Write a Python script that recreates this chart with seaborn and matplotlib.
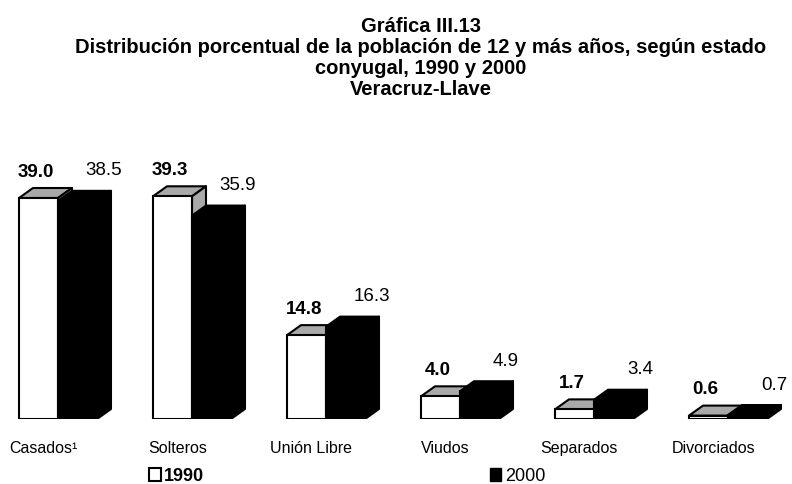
import numpy as np
import pandas as pd
import matplotlib
matplotlib.use("Agg")
import matplotlib.pyplot as plt
from matplotlib.patches import Polygon, Patch
import seaborn as sns

# Population aged 12+ by marital status, Veracruz-Llave (percent)
categorias = ["Casados¹", "Solteros", "Unión Libre", "Viudos", "Separados", "Divorciados"]
pct_1990 = [39.0, 39.3, 14.8, 4.0, 1.7, 0.6]
pct_2000 = [38.5, 35.9, 16.3, 4.9, 3.4, 0.7]
anios = ["1990", "2000"]

titulo = [
    "Gráfica III.13",
    "Distribución porcentual de la población de 12 y más años, según estado",
    "conyugal, 1990 y 2000",
    "Veracruz-Llave",
]

df = pd.DataFrame({
    "Estado": categorias * 2,
    "Año": [anios[0]] * len(categorias) + [anios[1]] * len(categorias),
    "Porcentaje": pct_1990 + pct_2000,
})

sns.set_style("white")
plt.rcParams["font.family"] = ["Liberation Sans", "DejaVu Sans"]
plt.rcParams["text.color"] = "black"
plt.rcParams["xtick.color"] = "black"
plt.rcParams["xtick.labelcolor"] = "black"

W, H = 792, 485
fig = plt.figure(figsize=(W / 100, H / 100), dpi=100)
ax = fig.add_axes([0, 65 / H, 1, 255 / H])

sns.barplot(
    data=df, x="Estado", y="Porcentaje", hue="Año",
    order=categorias, hue_order=anios,
    palette=["white", "black"], saturation=1,
    width=0.582, edgecolor="black", linewidth=1.5,
    errorbar=None, legend=False, ax=ax,
)

step_px = 134.0
ax.set_xlim(-58 / step_px, (W - 58) / step_px)
ax.set_ylim(0, 45)
px_per_unit = 255 / 45

# pseudo-3D depth of the boxes, in data units
dx = 14 / step_px
dy = 10 / px_per_unit

def is_white(p):
    return p.get_facecolor()[0] > 0.5

bars_1990 = sorted([p for p in ax.patches if is_white(p)], key=lambda p: p.get_x())
bars_2000 = sorted([p for p in ax.patches if not is_white(p)], key=lambda p: p.get_x())

def add_depth(p, top_color, side_color, edge, z):
    x0, w, h = p.get_x(), p.get_width(), p.get_height()
    top = Polygon([(x0, h), (x0 + dx, h + dy), (x0 + w + dx, h + dy), (x0 + w, h)],
                  closed=True, facecolor=top_color, edgecolor=edge, linewidth=1.5,
                  joinstyle="round", zorder=z)
    side = Polygon([(x0 + w, 0), (x0 + w, h), (x0 + w + dx, h + dy), (x0 + w + dx, dy)],
                   closed=True, facecolor=side_color, edgecolor=edge, linewidth=1.5,
                   joinstyle="round", zorder=z)
    ax.add_patch(top)
    ax.add_patch(side)
    p.set_zorder(z + 0.1)

for p in bars_1990:
    add_depth(p, "#a9a9a9", "#a9a9a9", "black", 2)
for p in bars_2000:
    add_depth(p, "black", "black", "black", 3)

# value labels
for p, v in zip(bars_1990, pct_1990):
    ax.annotate(f"{v:.1f}", xy=(p.get_x() + p.get_width() / 2, v),
                xytext=(-2, 16), textcoords="offset points",
                ha="center", va="baseline", fontsize=13.5, fontweight="bold",
                zorder=5)
for p, v in zip(bars_2000, pct_2000):
    ax.annotate(f"{v:.1f}", xy=(p.get_x() + p.get_width() / 2, v),
                xytext=(19, 19), textcoords="offset points",
                ha="center", va="baseline", fontsize=13.5, zorder=5)

# category axis
ax.set_xticks(np.arange(len(categorias)) - 0.11, labels=categorias, fontsize=11.5)
ax.tick_params(axis="x", length=0, pad=15)
ax.set_yticks([])
ax.set_xlabel("")
ax.set_ylabel("")
for s in ax.spines.values():
    s.set_visible(False)

# legend
handles = [Patch(facecolor="white", edgecolor="black", linewidth=1.5),
           Patch(facecolor="black", edgecolor="black")]
leg = fig.legend(handles, anios, loc="center left",
                 bbox_to_anchor=(149 / W, 1 - 477 / H), ncol=2, frameon=False,
                 fontsize=13, handlelength=0.65, handleheight=0.75,
                 handletextpad=0.2, columnspacing=15.8,
                 borderpad=0, borderaxespad=0)
leg.get_texts()[0].set_fontweight("bold")

# title
for line, yb in zip(titulo, [32, 53, 74, 95]):
    fig.text(421 / W, 1 - yb / H, line, ha="center", va="baseline",
             fontsize=14.5, fontweight="bold")

fig.savefig("out.png", dpi=100)
